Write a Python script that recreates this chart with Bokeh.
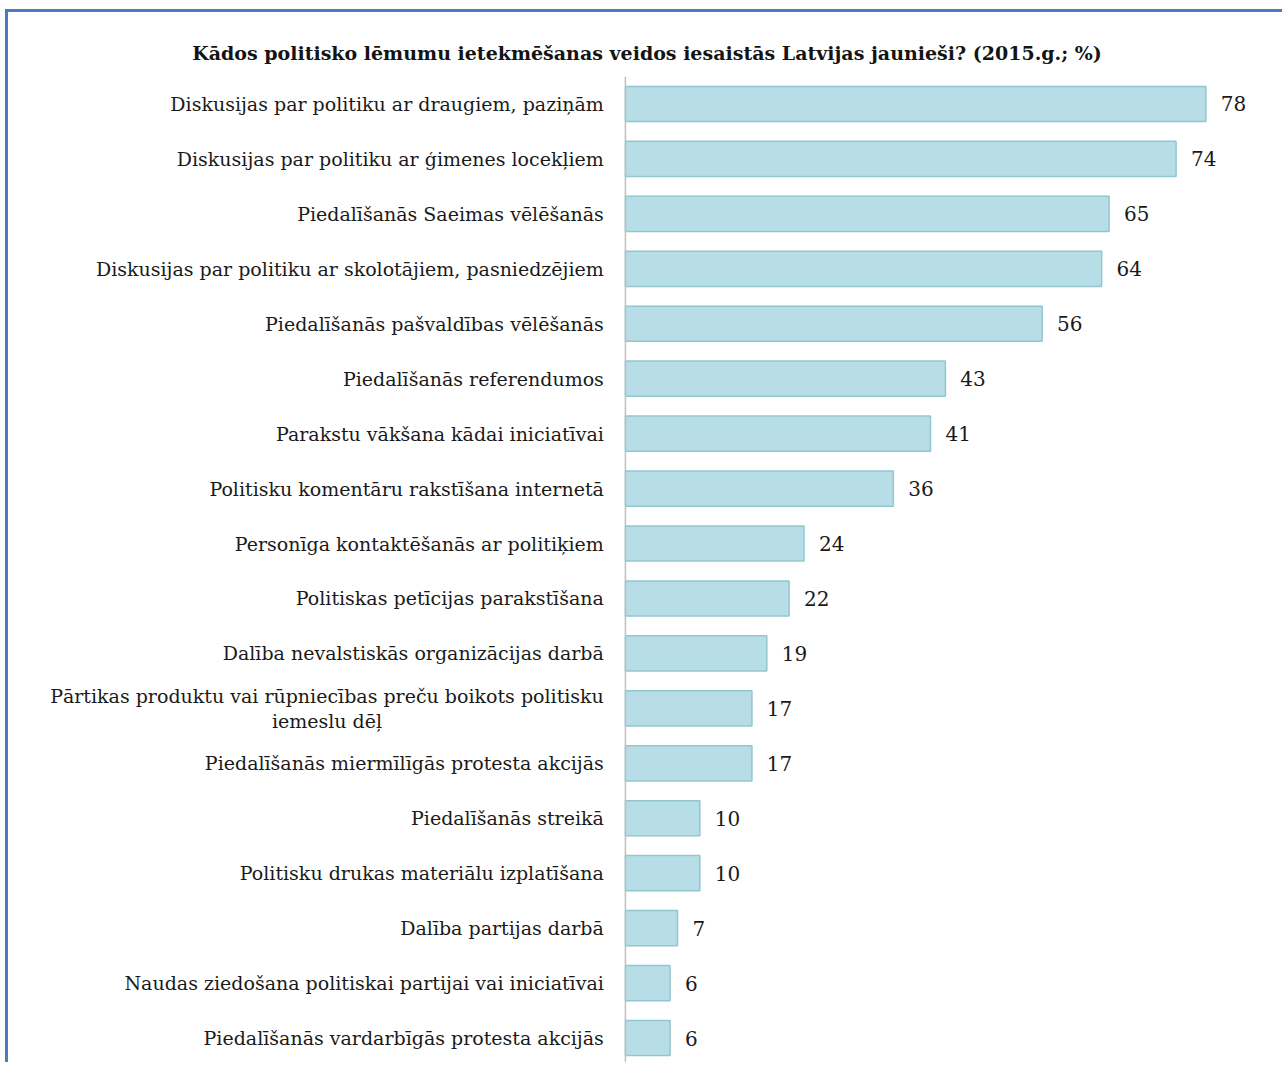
from bokeh.plotting import figure
from bokeh.models import FactorRange, Span, ColumnDataSource
from bokeh.core.properties import value
from bokeh.embed import file_html
from bokeh.resources import INLINE

title_text = "Kādos politisko lēmumu ietekmēšanas veidos iesaistās Latvijas jaunieši? (2015.g.; %)"

categories = [
    "Diskusijas par politiku ar draugiem, paziņām",
    "Diskusijas par politiku ar ģimenes locekļiem",
    "Piedalīšanās Saeimas vēlēšanās",
    "Diskusijas par politiku ar skolotājiem, pasniedzējiem",
    "Piedalīšanās pašvaldības vēlēšanās",
    "Piedalīšanās referendumos",
    "Parakstu vākšana kādai iniciatīvai",
    "Politisku komentāru rakstīšana internetā",
    "Personīga kontaktēšanās ar politiķiem",
    "Politiskas petīcijas parakstīšana",
    "Dalība nevalstiskās organizācijas darbā",
    "Pārtikas produktu vai rūpniecības preču boikots politisku\niemeslu dēļ",
    "Piedalīšanās miermīlīgās protesta akcijās",
    "Piedalīšanās streikā",
    "Politisku drukas materiālu izplatīšana",
    "Dalība partijas darbā",
    "Naudas ziedošana politiskai partijai vai iniciatīvai",
    "Piedalīšanās vardarbīgās protesta akcijās",
]
values = [78, 74, 65, 64, 56, 43, 41, 36, 24, 22, 19, 17, 17, 10, 10, 7, 6, 6]

FONT = "DejaVu Serif"
LABEL_X = -2.9
MULTI_CENTER_X = -40.1
VALUE_OFFSET = 2.0

single = [c for c in categories if "\n" not in c]
multi = [c for c in categories if "\n" in c]

src = ColumnDataSource(dict(
    cat=categories,
    val=values,
    vlab=[str(v) for v in values],
    vx=[v + VALUE_OFFSET for v in values],
))
src_single = ColumnDataSource(dict(cat=single, lx=[LABEL_X] * len(single)))
src_multi = ColumnDataSource(dict(cat=multi, lx=[MULTI_CENTER_X] * len(multi)))

p = figure(
    width=1277, height=1053,
    y_range=FactorRange(*reversed(categories)),
    x_range=(-82.9, 88.7),
    output_backend="svg", toolbar_location=None,
    min_border_left=0, min_border_right=0, min_border_bottom=0, min_border_top=64,
)
p.styles = {"border-style": "solid", "border-color": "#4a7cc6",
            "border-width": "3px 0px 0px 3px",
            "margin-left": "5px", "margin-top": "9px"}

p.title.text = title_text
p.title.align = "center"
p.title.text_font = FONT
p.title.text_font_size = "19px"
p.title.text_font_style = "bold"
p.title.text_color = "#141414"
p.title.standoff = 26

p.hbar(y="cat", right="val", left=0, height=0.64, source=src,
       fill_color="#b7dee7", line_color="#93c6d2", line_width=1.5)

label_style = dict(text_baseline="middle", text_font=value(FONT),
                   text_font_size="19px", text_color="#1a1a1a",
                   text_line_height=1.15)
p.text(x="lx", y="cat", text="cat", source=src_single, text_align="right", **label_style)
p.text(x="lx", y="cat", text="cat", source=src_multi, text_align="center", **label_style)
p.text(x="vx", y="cat", text="vlab", source=src, text_align="left",
       text_baseline="middle", text_font=value(FONT), text_font_size="20px",
       text_color="#1a1a1a")

p.add_layout(Span(location=0, dimension="height", line_color="#bfbfbf", line_width=1.5))

p.xaxis.visible = False
p.yaxis.visible = False
p.xgrid.visible = False
p.ygrid.visible = False
p.outline_line_color = None
p.y_range.range_padding = 0

open("out.html", "w").write(file_html(p, INLINE))
